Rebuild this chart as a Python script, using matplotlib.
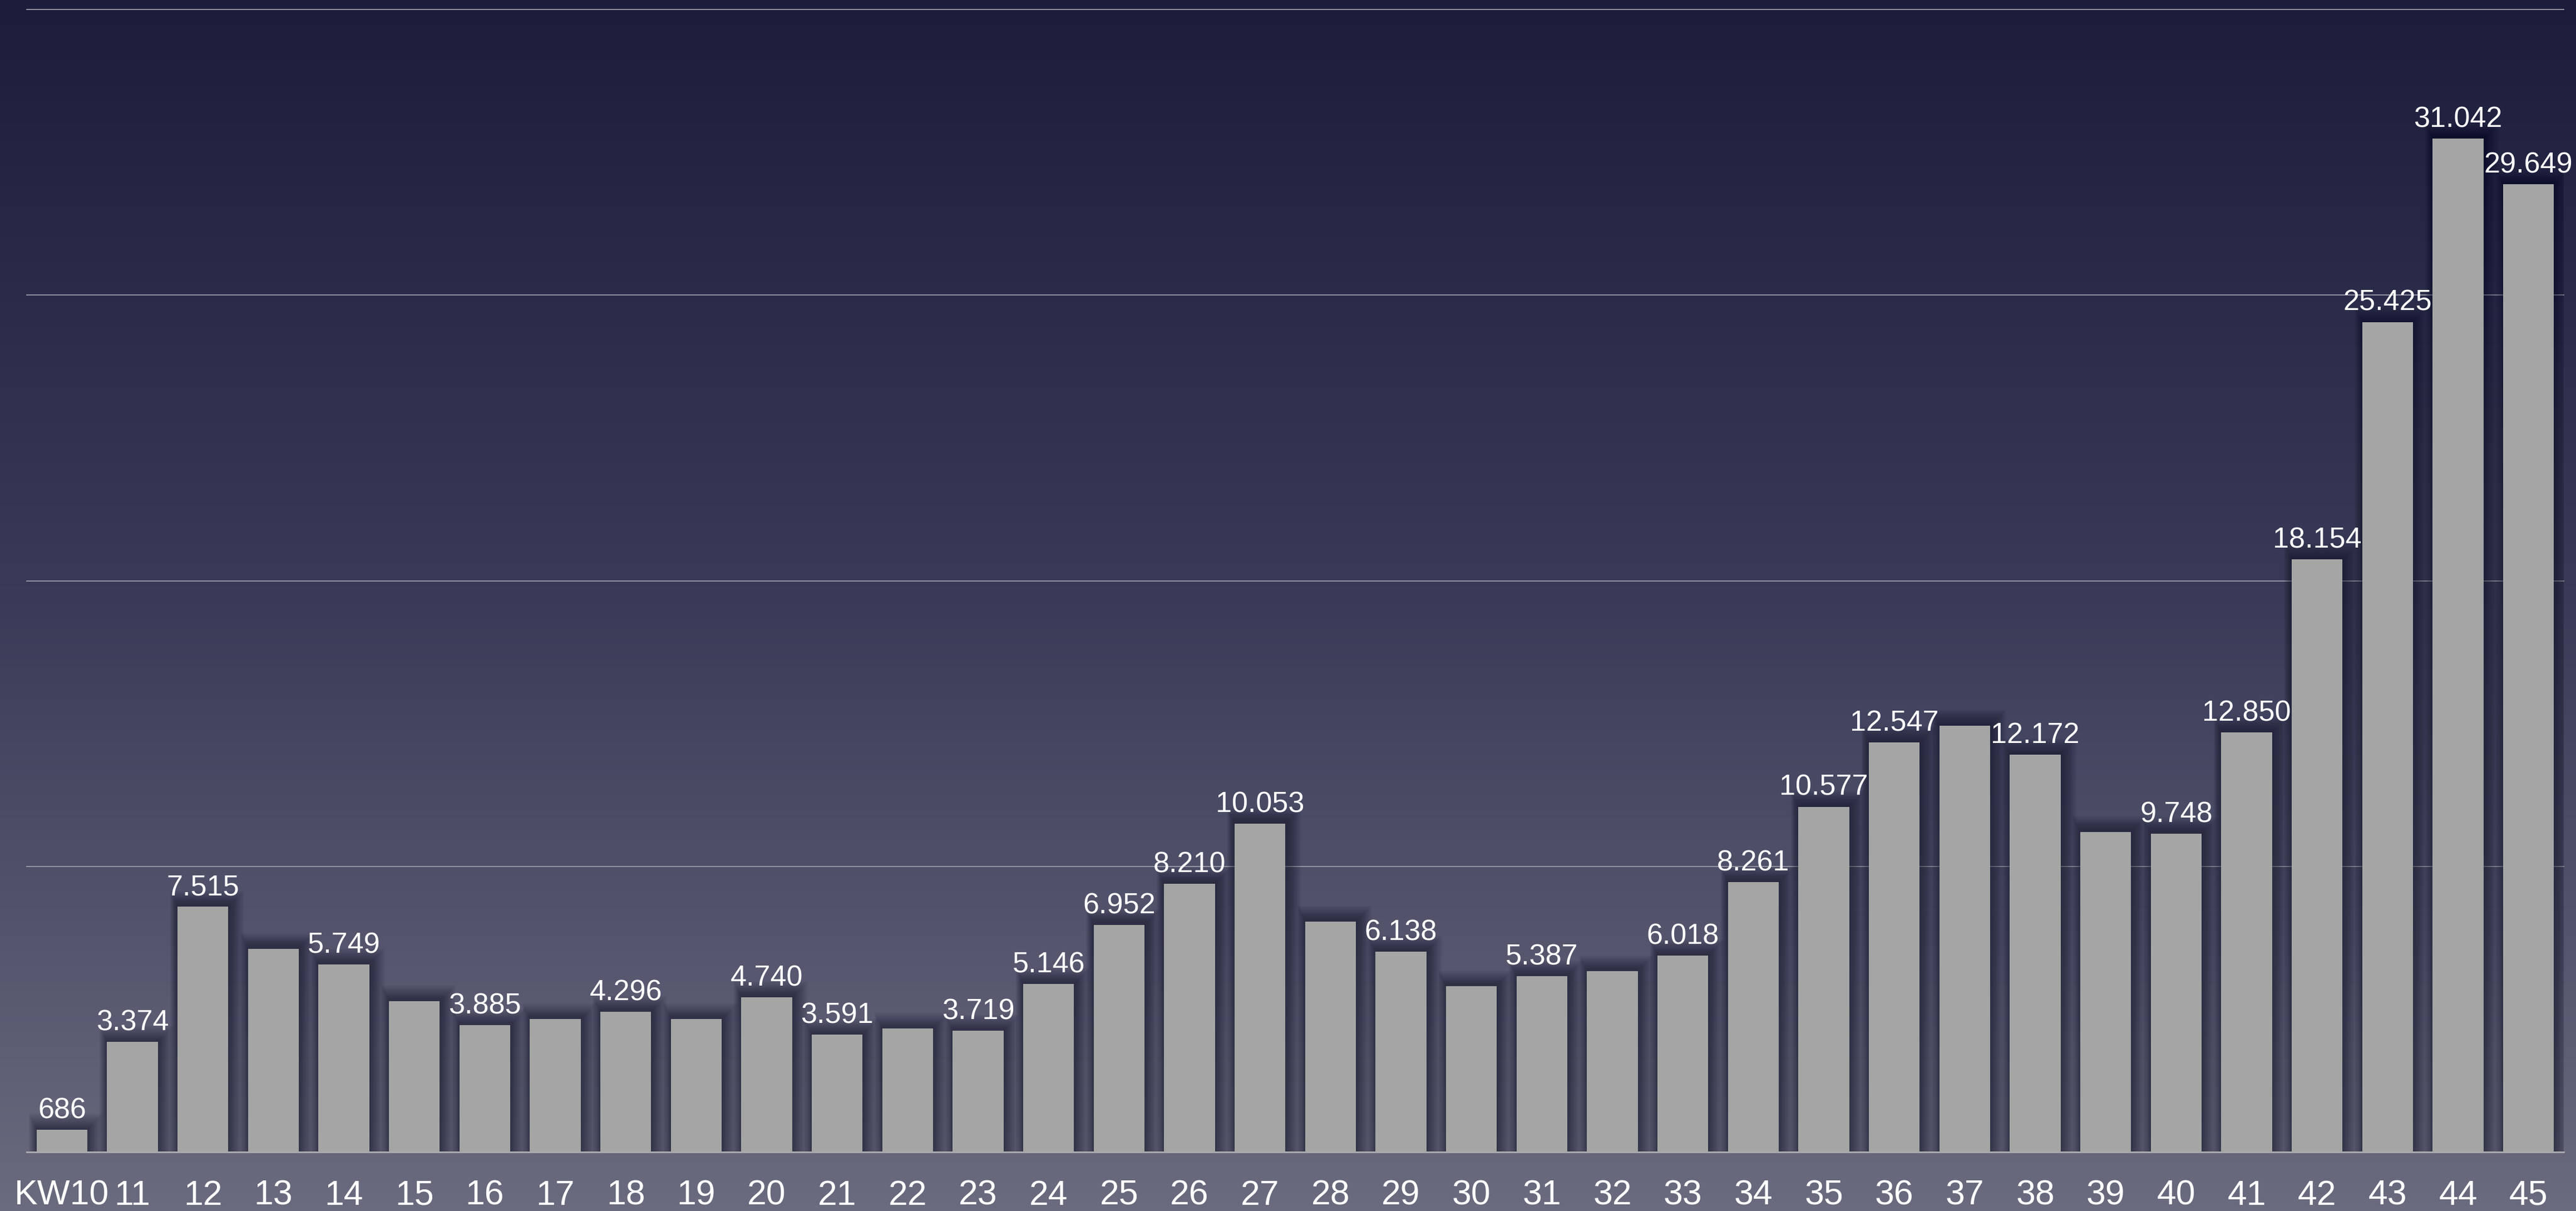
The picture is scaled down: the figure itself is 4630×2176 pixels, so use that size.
import numpy as np
import matplotlib
matplotlib.use("Agg")
import matplotlib.pyplot as plt
from matplotlib.colors import LinearSegmentedColormap

# calendar weeks and weekly counts
weeks = ['KW10', '11', '12', '13', '14', '15', '16', '17', '18', '19', '20', '21',
         '22', '23', '24', '25', '26', '27', '28', '29', '30', '31', '32', '33',
         '34', '35', '36', '37', '38', '39', '40', '41', '42', '43', '44', '45']
cases = [686, 3374, 7515, 6230, 5749, 4620, 3885, 4070, 4296, 4070, 4740, 3591,
         3780, 3719, 5146, 6952, 8210, 10053, 7060, 6138, 5080, 5387, 5540, 6018,
         8261, 10577, 12547, 13060, 12172, 9800, 9748, 12850, 18154, 25425, 31042, 29649]
# which bars carry a value label in the original
labelled = [1, 1, 1, 0, 1, 0, 1, 0, 1, 0, 1, 1,
            0, 1, 1, 1, 1, 1, 0, 1, 0, 1, 0, 1,
            1, 1, 1, 0, 1, 0, 1, 1, 1, 1, 1, 1]

plt.rcParams['font.family'] = ['Liberation Sans', 'DejaVu Sans']

W, H, DPI = 4630, 2176, 100
fig = plt.figure(figsize=(W / DPI, H / DPI), dpi=DPI)

# gradient background over the whole figure
bg = fig.add_axes([0, 0, 1, 1], zorder=-10)
cmap = LinearSegmentedColormap.from_list('bg', ['#1c1d3b', '#3a3b58', '#6a6b7e'])
grad = np.linspace(0, 1, 512).reshape(-1, 1)
bg.imshow(grad, aspect='auto', cmap=cmap, extent=[0, 1, 0, 1], origin='upper')
bg.set_axis_off()

left, right = 48 / W, 4608 / W
bottom, top = (H - 2070) / H, (H - 17) / H
ax = fig.add_axes([left, bottom, right - left, top - bottom])
ax.set_facecolor('none')

x = np.arange(len(weeks))
vals = np.array(cases, dtype=float)
bw = 0.72

# soft drop shadow behind the bars
n = 24
for i in range(n):
    k = (i + 1) / n
    ax.bar(x + 0.06 * k, vals + 500 * k, width=bw + 0.34 * k, color='#0a0a1e',
           alpha=0.022, linewidth=0, zorder=1)

ax.bar(x, vals, width=bw, color='#a5a5a5', linewidth=0, zorder=3)

for xi, v, show in zip(x, cases, labelled):
    if show:
        ax.annotate(f'{v:,}'.replace(',', '.'), (xi, v), xytext=(0, 7),
                    textcoords='offset points', ha='center', va='bottom',
                    fontsize=37.5, color='white', zorder=5)

ax.set_xlim(-0.5, len(weeks) - 0.5)
ax.set_ylim(0, 35000)
ax.set_yticks(np.arange(0, 35001, 8750))
ax.yaxis.grid(True, color='#9d9dab', linewidth=1.3, zorder=0)
ax.set_axisbelow(True)
for gl in ax.get_ygridlines():
    gl.set_clip_on(False)
ax.tick_params(axis='y', length=0, labelleft=False)
ax.set_xticks(x)
ax.set_xticklabels(weeks, fontsize=45, color='white')
ax.tick_params(axis='x', length=0, pad=35)

for s in ['top', 'left', 'right']:
    ax.spines[s].set_visible(False)
ax.spines['bottom'].set_color('#a9a9ad')
ax.spines['bottom'].set_linewidth(2.2)
ax.spines['bottom'].set_zorder(4)

fig.savefig('out.png', dpi=DPI)
